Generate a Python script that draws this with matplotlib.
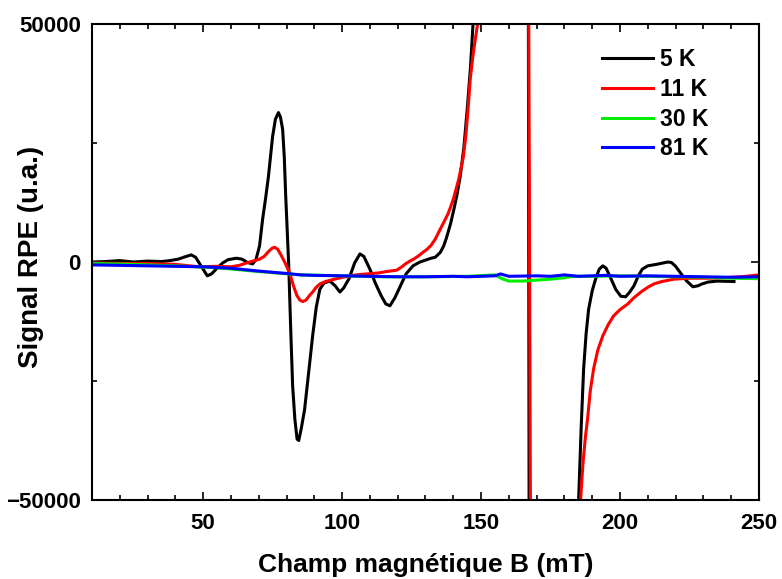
import numpy as np
import matplotlib
matplotlib.use("Agg")
import matplotlib.pyplot as plt
from matplotlib.ticker import MultipleLocator

plt.rcParams['font.family'] = ['Liberation Sans', 'DejaVu Sans']
plt.rcParams['font.weight'] = 'bold'

# 5 K
x_5k = [10, 15, 20, 25, 30, 35, 38, 41, 43.5, 45.7, 47.3, 49, 51.5, 53, 55, 57, 59,
        62, 64, 66, 67.8, 69, 70.3, 71.4, 72.5, 73.5, 74.3, 75, 76, 77.1, 77.8, 78.6,
        79.2, 79.7, 80.3, 80.8, 81.5, 82.2, 83, 83.8, 84.4, 85.3, 86.5, 88, 89.4,
        90.7, 92, 93.5, 95.6, 97.5, 99.2, 100.5, 102.5, 104.5, 106.4, 107.8, 110, 112,
        114, 115.7, 117.2, 119, 121, 123, 125.5, 128, 130, 132, 133.5, 135.3, 136.5,
        137.5, 139, 140, 141.3, 142.5, 143.8, 145, 146.2, 147.2, 148, 167.0, 167.3,
        184.5, 185.1, 186, 186.9, 187.8, 188.7, 190, 191.2, 192.5, 193.8, 195, 196.5,
        198.5, 200.3, 202, 203.5, 205, 206.5, 208, 210, 213, 215.5, 217.2, 218.5,
        220, 222, 224, 226.2, 228, 229.5, 231.7, 235, 241]
y_5k = [0, 100, 300, 0, 200, 100, 300, 600, 1100, 1500, 1000, -600, -2900, -2500,
        -1300, -200, 500, 800, 600, -100, -400, 500, 3400, 9000, 13500, 18000, 22500,
        26400, 30000, 31400, 30500, 27900, 22000, 14000, 6000, -800, -14000, -26000,
        -33000, -37200, -37500, -35000, -31000, -23000, -15500, -9500, -5700, -4400,
        -4000, -5000, -6300, -5500, -3500, -200, 1700, 1200, -1500, -4500, -7000,
        -8800, -9200, -7500, -5000, -2500, -800, 0, 400, 800, 1000, 2000, 3300, 5000,
        8000, 10500, 14000, 18000, 24000, 32000, 41000, 51000, 60000, 60000, -60000,
        -60000, -50000, -35000, -22400, -15000, -9900, -6000, -3600, -1500, -800,
        -1300, -3200, -5800, -7200, -7300, -6300, -5000, -3000, -1500, -800, -500,
        -200, 0, -100, -900, -2500, -4000, -5200, -5000, -4600, -4200, -4000, -4100]

# 11 K
x_11k = [10, 20, 30, 40, 48.6, 55, 60, 63, 66.7, 68.5, 70.3, 72, 73.5, 74.8, 75.7,
         76.8, 78, 79.5, 81.1, 82.5, 83.7, 84.8, 85.8, 87, 88.3, 89.4, 90.7, 92, 94,
         96, 98, 100.2, 103, 105, 108.9, 113, 116, 119.7, 121.5, 123, 124.4, 126,
         127.5, 129, 130.6, 132, 133.5, 135.3, 136.8, 138, 139, 140, 141, 142, 142.8,
         143.6, 144.5, 145.3, 146.1, 147, 147.9, 149, 150, 167.1, 167.8, 185, 185.8,
         186.7, 187.5, 188.3, 189.3, 190.5, 192, 193.8, 195.7, 197.7, 200, 202.8, 205,
         207.5, 210, 212.2, 215, 219.4, 225, 231.7, 237, 243.6, 250]
y_11k = [-200, -300, -300, -500, -1000, -900, -1000, -700, 0, 300, 600, 1200, 2200,
         2900, 3100, 2700, 1500, -200, -2300, -5000, -7000, -8000, -8300, -8000, -7000,
         -6300, -5300, -4600, -4100, -3800, -3500, -3200, -2900, -2700, -2500, -2300,
         -2000, -1700, -1000, -300, 200, 700, 1300, 2000, 2700, 3500, 4800, 6900, 8600,
         10000, 11500, 13200, 15300, 17500, 19800, 22000, 26500, 32000, 38400, 43000,
         46700, 51000, 55000, 60000, -60000, -60000, -50000, -42000, -37000, -33000,
         -27000, -22400, -18500, -15500, -13200, -11300, -10000, -8800, -7500, -6300,
         -5300, -4600, -4100, -3600, -3400, -3400, -3300, -3100, -2700]

# 30 K
x_30k = [10, 25, 40, 55, 70, 85, 100, 115, 130, 145, 155, 157.5, 160, 165, 170, 175,
         180, 183, 190, 200, 210, 220, 230, 240, 250]
y_30k = [-300, -500, -800, -1200, -2000, -2700, -2900, -3100, -3100, -3000, -2700,
         -3500, -4000, -4000, -3800, -3600, -3300, -3000, -3000, -2900, -3000, -3100,
         -3200, -3400, -3500]

# 81 K
x_81k = [10, 20, 30, 40, 50, 60, 70, 80, 85, 90, 100, 110, 120, 130, 140, 145, 150,
         155, 157, 160, 170, 175, 180, 185, 190, 195, 200, 210, 220, 230, 240, 250]
y_81k = [-600, -700, -800, -900, -1000, -1300, -1900, -2400, -2700, -2800, -2900,
         -3000, -3100, -3100, -3000, -3100, -3000, -2900, -2500, -3000, -2900, -3000,
         -2700, -3000, -2900, -2800, -3000, -2900, -3000, -3100, -3200, -3100]

fig = plt.figure(figsize=(7.82, 5.79), dpi=100)
ax = fig.add_axes([0.1176, 0.1364, 0.853, 0.8221])

lw = 2.2
ax.plot(x_5k, y_5k, color='black', lw=lw, label='5 K')
ax.plot(x_11k, y_11k, color='red', lw=lw, label='11 K')
ax.plot(x_30k, y_30k, color='#00ee00', lw=lw, label='30 K')
ax.plot(x_81k, y_81k, color='blue', lw=lw, label='81 K')

ax.set_xlim(10, 250)
ax.set_ylim(-50000, 50000)
ax.xaxis.set_major_locator(MultipleLocator(50))
ax.xaxis.set_minor_locator(MultipleLocator(10))
ax.yaxis.set_major_locator(MultipleLocator(50000))
ax.yaxis.set_minor_locator(MultipleLocator(25000))
ax.tick_params(which='both', direction='in', top=True, right=True, width=1.2)
ax.tick_params(which='major', length=6, labelsize=16)
ax.tick_params(which='minor', length=3.5)
ax.tick_params(axis='x', pad=9)
ax.tick_params(axis='y', pad=8)
for s in ax.spines.values():
    s.set_linewidth(1.5)

ax.set_xlabel('Champ magnétique B (mT)', fontsize=19, fontweight='bold', labelpad=14)
ax.set_ylabel('Signal RPE (u.a.)', fontsize=20, fontweight='bold')
ax.yaxis.set_label_coords(-0.072, 0.51)

ax.legend(loc='upper left', bbox_to_anchor=(0.765, 0.95), frameon=False,
          fontsize=16.5, handlelength=2.2, handletextpad=0.3, labelspacing=0.3,
          borderpad=0, borderaxespad=0)

fig.savefig('out.png', dpi=100)
